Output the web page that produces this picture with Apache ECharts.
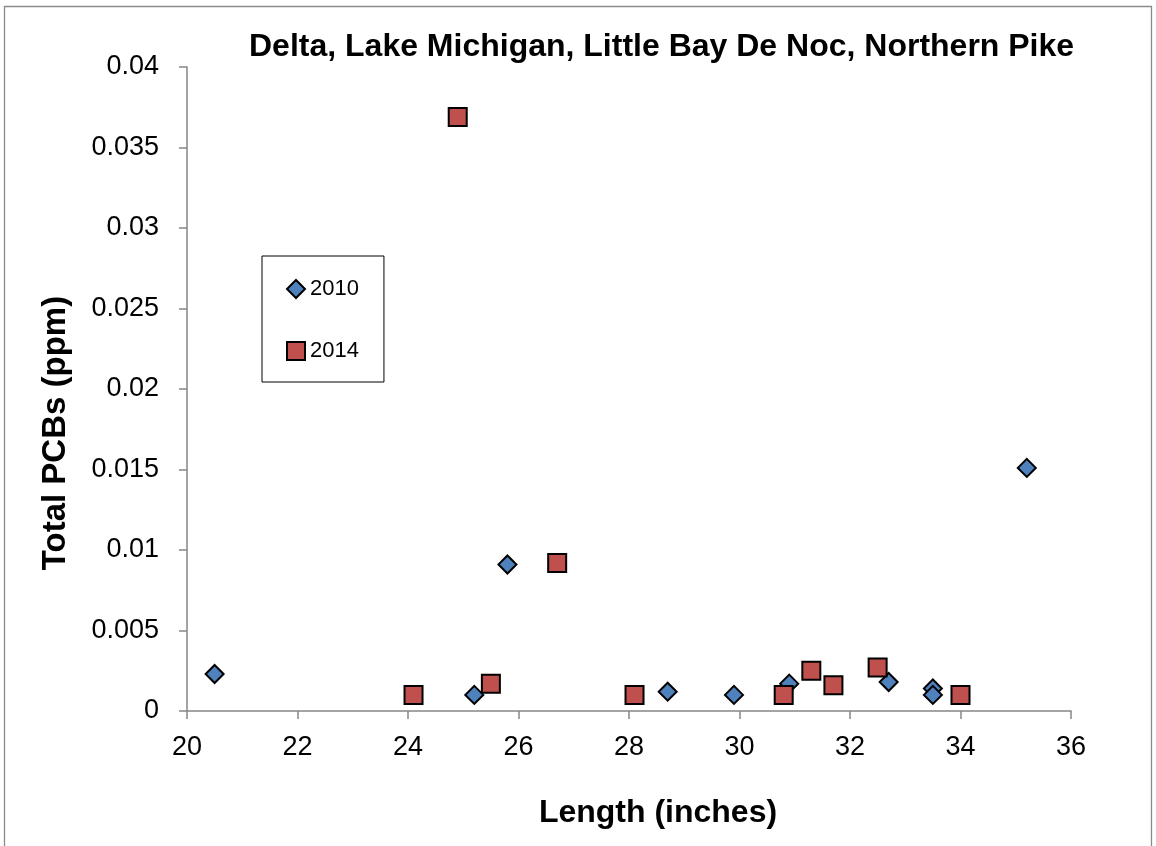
<!DOCTYPE html>
<html>
<head>
<meta charset="utf-8">
<script src="https://cdn.jsdelivr.net/npm/echarts@6/dist/echarts.min.js"></script>
<style>
html,body{margin:0;padding:0;background:#fff;}
#chart{width:1156px;height:846px;}
</style>
</head>
<body>
<div id="chart"></div>
<script>
var chartTitle = 'Delta, Lake Michigan, Little Bay De Noc, Northern Pike';
var xAxisName = 'Length (inches)';
var yAxisName = 'Total PCBs (ppm)';
var seriesNames = ['2010', '2014'];
var len2010 = [20.5, 25.2, 25.8, 28.7, 29.9, 30.9, 32.7, 33.5, 33.5, 35.2];
var pcb2010 = [0.0023, 0.001, 0.0091, 0.0012, 0.001, 0.0017, 0.0018, 0.0014, 0.001, 0.0151];
var len2014 = [24.1, 24.9, 25.5, 26.7, 28.1, 30.8, 31.3, 31.7, 32.5, 34.0];
var pcb2014 = [0.001, 0.0369, 0.0017, 0.0092, 0.001, 0.001, 0.0025, 0.0016, 0.0027, 0.001];

function pairs(xs, ys){ return xs.map(function(x,i){ return [x, ys[i]]; }); }

var FONT = "'Liberation Sans', Arial, sans-serif";
var axisColor = '#868686';
var chart = echarts.init(document.getElementById('chart'), null, {renderer:'canvas'});
chart.setOption({
  backgroundColor: '#ffffff',
  animation: false,
  title: {
    text: chartTitle,
    left: 249, top: 31, padding: 0,
    textStyle: {fontFamily: FONT, fontWeight: 'bold', fontSize: 32, color: '#000'}
  },
  graphic: [{
    type: 'rect',
    shape: {x: 4.5, y: 6.5, width: 1147, height: 860},
    style: {fill: 'none', stroke: '#8a8a8a', lineWidth: 1.3},
    silent: true
  }],
  legend: {
    orient: 'vertical',
    left: 262, top: 256,
    padding: [22, 25, 20, 24],
    borderColor: '#000', borderWidth: 1,
    itemWidth: 18, itemHeight: 18, itemGap: 40, itemTextGap: 7,
    textStyle: {fontFamily: FONT, fontSize: 22, color: '#000', lineHeight: 22},
    data: [{name: seriesNames[0], icon: 'diamond'}, {name: seriesNames[1], icon: 'rect'}]
  },
  grid: {left: 187, top: 67, width: 884, height: 644},
  xAxis: {
    type: 'value', min: 20, max: 36, interval: 2,
    name: xAxisName, nameLocation: 'middle', nameGap: 86,
    nameTextStyle: {fontFamily: FONT, fontWeight: 'bold', fontSize: 32, color: '#000', padding: [0, 0, 0, 58]},
    axisLine: {show: true, onZero: false, lineStyle: {color: axisColor, width: 1.5}},
    axisTick: {show: true, inside: false, length: 8, lineStyle: {color: axisColor, width: 1.5}},
    axisLabel: {fontFamily: FONT, fontSize: 27, color: '#000', margin: 23},
    splitLine: {show: false}
  },
  yAxis: {
    type: 'value', min: 0, max: 0.04, interval: 0.005,
    name: yAxisName, nameLocation: 'middle', nameGap: 115,
    nameTextStyle: {fontFamily: FONT, fontWeight: 'bold', fontSize: 33, color: '#000', padding: [0, 88, 0, 0]},
    axisLine: {show: true, lineStyle: {color: axisColor, width: 1.5}},
    axisTick: {show: true, inside: false, length: 8, lineStyle: {color: axisColor, width: 1.5}},
    axisLabel: {fontFamily: FONT, fontSize: 27, color: '#000', margin: 28,
      formatter: function(v){ return String(+v.toFixed(3)); }},
    splitLine: {show: false}
  },
  series: [{
    name: seriesNames[0], type: 'scatter', symbol: 'diamond', symbolSize: 18,
    itemStyle: {color: '#4F81BD', borderColor: '#000', borderWidth: 2, opacity: 1},
    data: pairs(len2010, pcb2010)
  }, {
    name: seriesNames[1], type: 'scatter', symbol: 'rect', symbolSize: 18,
    itemStyle: {color: '#C0504D', borderColor: '#000', borderWidth: 2, opacity: 1},
    data: pairs(len2014, pcb2014)
  }]
});
</script>
</body>
</html>
